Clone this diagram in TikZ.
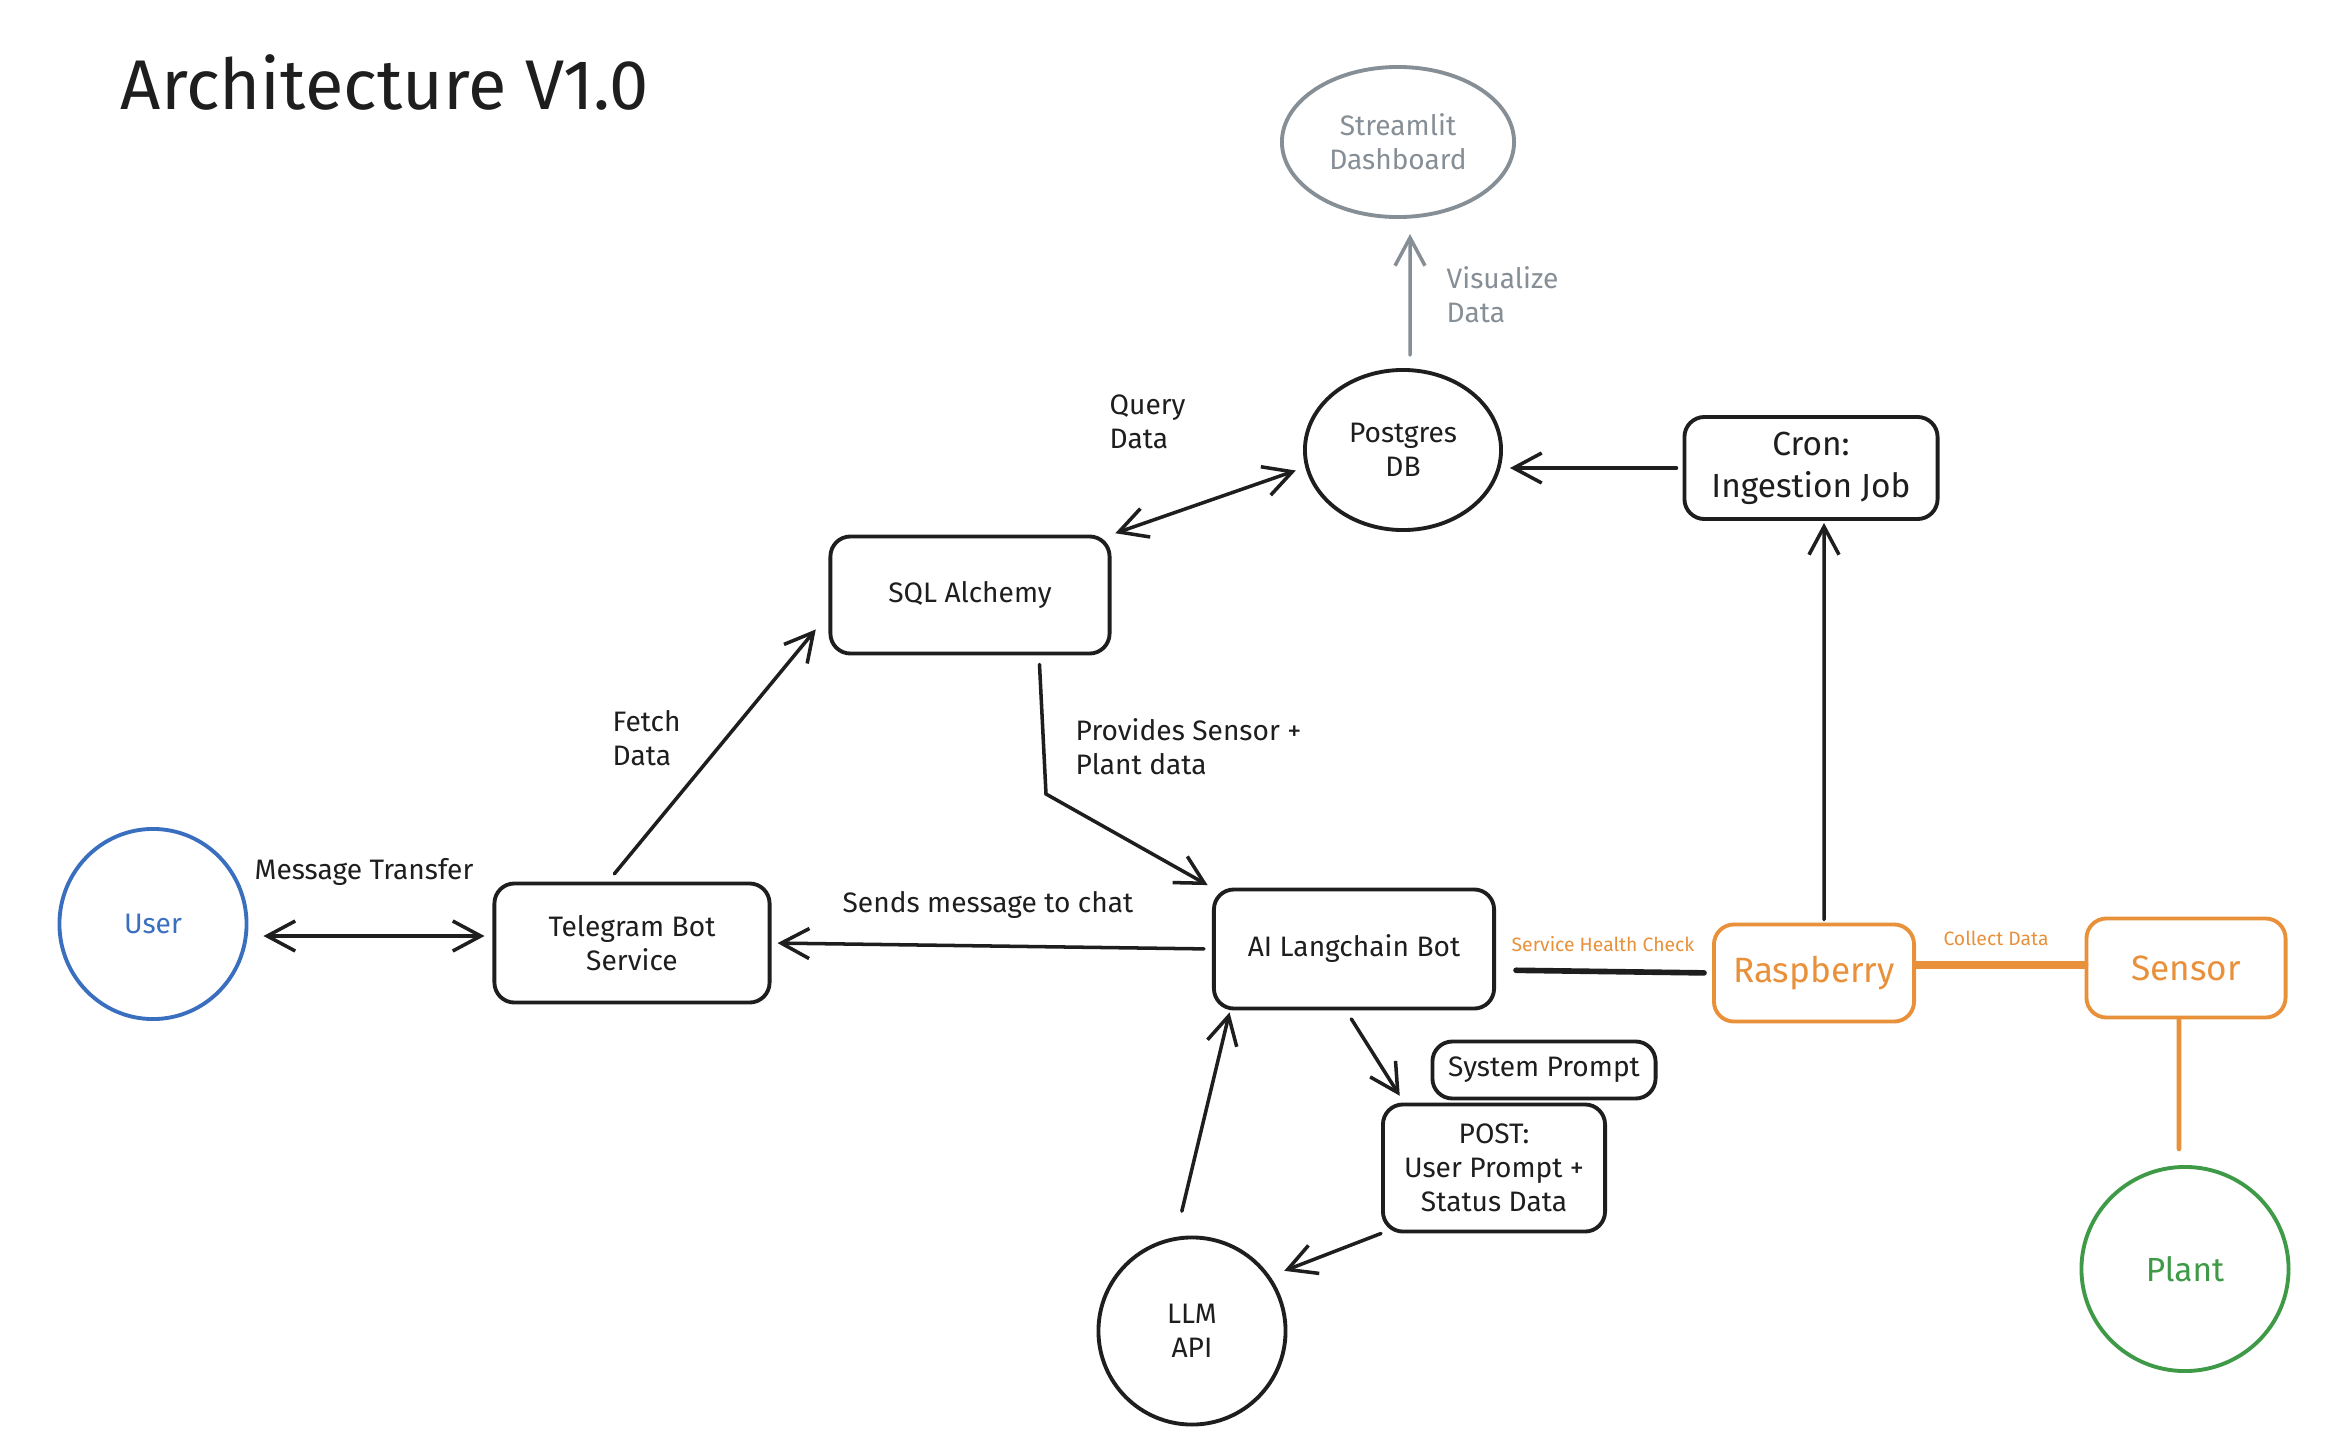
\documentclass[tikz,border=0pt]{standalone}
\usepackage{fontspec}
\setmainfont{Fira Sans}
\usepackage{xcolor}
\usetikzlibrary{arrows.meta,shapes.geometric,calc}
\definecolor{ink}{HTML}{1E1E1E}
\definecolor{mute}{HTML}{868E96}
\definecolor{userblue}{HTML}{3A6FC0}
\definecolor{orng}{HTML}{E8913A}
\definecolor{leaf}{HTML}{3F9A47}
\tikzset{
  >={Straight Barb[length=2.8mm,width=3mm]},
  box/.style={draw=ink, line width=1.1pt, rounded corners=0.2cm, align=center, inner sep=0pt, text=ink, font=\fontsize{8}{9.6}\selectfont},
  blob/.style={draw=ink, ellipse, line width=1.1pt, align=center, inner sep=0pt, text=ink, font=\fontsize{8}{9.6}\selectfont},
  link/.style={draw=ink, line width=1pt, line cap=round},
  lab/.style={text=ink, align=left, inner sep=0pt, font=\fontsize{8}{9.6}\selectfont},
  labo/.style={text=orng, inner sep=0pt, font=\fontsize{5.5}{6.6}\selectfont},
}

\begin{document}
\begin{tikzpicture}[x=0.01cm, y=-0.01cm]
  \useasboundingbox[fill=white] (0,0) rectangle (2350,1454);

  % title
  \node[anchor=west, text=ink, inner sep=0pt, font=\fontsize{20}{24}\selectfont] (title) at (120,82) {Architecture V1.0};

  % storage side
  \node[blob, draw=mute, text=mute, minimum width=2.32cm, minimum height=1.5cm] (st) at (1398,142) {Streamlit\\Dashboard};
  \node[blob, minimum width=1.96cm, minimum height=1.6cm] (pg) at (1403,450) {Postgres\\DB};
  \node[box, minimum width=2.53cm, minimum height=1.02cm, font=\fontsize{9.5}{12}\selectfont] (cron) at (1811,468) {Cron:\\Ingestion Job};
  \node[box, minimum width=2.79cm, minimum height=1.17cm] (sql) at (970,595) {SQL Alchemy};

  % chat side
  \node[blob, draw=userblue, text=userblue, minimum width=1.87cm, minimum height=1.9cm] (user) at (153,924) {User};
  \node[box, minimum width=2.75cm, minimum height=1.19cm] (tg) at (632,943) {Telegram Bot\\Service};
  \node[box, minimum width=2.8cm, minimum height=1.19cm] (ai) at (1354,949) {AI Langchain Bot};
  \node[box, minimum width=2.23cm, minimum height=0.57cm] (sys) at (1544,1070) {System Prompt};
  \node[box, minimum width=2.22cm, minimum height=1.27cm] (post) at (1494,1168) {POST:\\User Prompt +\\Status Data};
  \node[blob, minimum width=1.87cm, minimum height=1.87cm] (llm) at (1192,1331) {LLM\\API};

  % hardware side
  \node[box, draw=orng, text=orng, minimum width=2cm, minimum height=0.97cm, font=\fontsize{10}{12}\selectfont] (rasp) at (1814,973) {Raspberry};
  \node[box, draw=orng, text=orng, minimum width=1.99cm, minimum height=0.99cm, font=\fontsize{10}{12}\selectfont] (sensor) at (2186,968) {Sensor};
  \node[blob, draw=leaf, text=leaf, minimum width=2.07cm, minimum height=2.04cm, font=\fontsize{9.5}{12}\selectfont] (plant) at (2185,1269) {Plant};

  % connectors
  \draw[link, draw=mute, ->, shorten <=0.13cm, shorten >=0.15cm] ([xshift=0.07cm]pg.north) -- ([xshift=0.12cm]st.south);
  \draw[link, ->, shorten <=0.06cm, shorten >=0.07cm] (cron.west) -- (cron.west -| pg.east);
  \draw[link, <->, shorten <=0.04cm, shorten >=0.1cm] (sql.north east) -- (pg.190);
  \draw[link, ->, shorten <=0.1cm, shorten >=0.2cm] ([xshift=-0.24cm]tg.north) -- ([yshift=-0.19cm]sql.west);
  \coordinate (bend) at (1046,794);
  \draw[link, ->, shorten <=0.09cm, shorten >=0.05cm] ([xshift=0.69cm]sql.south) -- (bend) -- (ai.north west);
  \draw[link, <->, shorten <=0.15cm, shorten >=0.08cm] ([yshift=-0.12cm]user.east) -- ([yshift=-0.12cm]user.east -| tg.west);
  \draw[link, ->, shorten <=0.08cm, shorten >=0.06cm] (ai.west) -- (tg.east);
  \draw[link, line width=1.6pt, shorten <=0.2cm, shorten >=0.08cm] ([yshift=-0.21cm]ai.east) -- (rasp.west);
  \draw[link, draw=orng, line width=2.2pt] ([yshift=0.08cm]rasp.east) -- ([yshift=0.03cm]sensor.west);
  \draw[link, draw=orng, line width=1.3pt, shorten >=0.16cm] ([xshift=-0.07cm]sensor.south) -- ([xshift=-0.06cm]plant.north);
  \draw[link, ->, shorten <=0.03cm, shorten >=0.02cm] ([xshift=0.1cm]rasp.north) -- ([xshift=0.13cm]cron.south);
  \draw[link, ->, shorten <=0.1cm, shorten >=0.08cm] ([xshift=-0.08cm]ai.south) -- ([xshift=0.23cm]post.north west);
  \draw[link, ->, shorten >=0.15cm] (post.south west) -- (llm.35);
  \draw[link, ->, shorten <=0.25cm, shorten >=0.02cm] ([xshift=-0.16cm]llm.north) -- ([xshift=0.18cm]ai.south west);

  % connector labels
  \node[lab, anchor=west, text=mute] (vislab) at (1446,295) {Visualize\\Data};
  \node[lab, anchor=west] (qlab) at (1109,422) {Query\\Data};
  \node[lab, anchor=west] (flab) at (612,738) {Fetch\\Data};
  \node[lab, anchor=west] (plab) at (1075,747) {Provides Sensor +\\Plant data};
  \node[lab] (mlab) at (364,872) {Message Transfer};
  \node[lab] (slab) at (988,905) {Sends message to chat};
  \node[labo] (hlab) at (1603,944) {Service Health Check};
  \node[labo] (clab) at (1996,938) {Collect Data};
\end{tikzpicture}
\end{document}
